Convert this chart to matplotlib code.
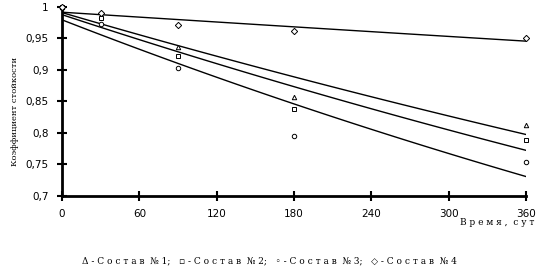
import numpy as np
import matplotlib
matplotlib.use("Agg")
import matplotlib.pyplot as plt

# Data
days = [0, 30, 90, 180, 360]
sostav1 = [1.0, 0.985, 0.937, 0.857, 0.812]
sostav2 = [1.0, 0.982, 0.923, 0.838, 0.789]
sostav3 = [1.0, 0.973, 0.903, 0.796, 0.754]
sostav4 = [1.0, 0.990, 0.971, 0.962, 0.951]

series = [
    (sostav1, "^"),
    (sostav2, "s"),
    (sostav3, "o"),
    (sostav4, "D"),
]

yticks = [0.7, 0.75, 0.8, 0.85, 0.9, 0.95, 1.0]
ytick_labels = ["0,7", "0,75", "0,8", "0,85", "0,9", "0,95", "1"]
xticks = [0, 60, 120, 180, 240, 300, 360]

fig = plt.figure(figsize=(5.38, 2.68), dpi=100)
ax = fig.add_axes([0.1152, 0.2687, 0.8625, 0.7052])

x = np.array(days, dtype=float)
xx = np.linspace(0, 360, 100)
for vals, mk in series:
    y = np.array(vals)
    # exponential trend line
    b, a = np.polyfit(x, np.log(y), 1)
    ax.plot(xx, np.exp(a + b * xx), color="black", lw=1.0, zorder=2)
    ax.plot(x, y, linestyle="none", marker=mk, ms=3.2, mfc="white",
            mec="black", mew=0.7, zorder=3, clip_on=False)

ax.set_xlim(0, 360)
ax.set_ylim(0.7, 1.0)
ax.set_yticks(yticks)
ax.set_yticklabels(ytick_labels)
ax.set_xticks(xticks)

for s in ["top", "right"]:
    ax.spines[s].set_visible(False)
for s in ["left", "bottom"]:
    ax.spines[s].set_linewidth(2)
ax.tick_params(axis="both", direction="inout", length=7, width=1.5,
               labelsize=7.5)
ax.tick_params(axis="x", pad=6)
ax.tick_params(axis="y", pad=6)

ax.set_ylabel("Коэффициент стойкости", family="DejaVu Serif", fontsize=6,
              labelpad=4)
ax.yaxis.set_label_coords(-0.092, 0.45)
fig.text(0.994, 0.168, "В р е м я ,  с у т", family="DejaVu Serif",
         fontsize=6.5, ha="right", va="center")
fig.text(0.5, 0.026,
         "\u0394 - С о с т а в  № 1;   \u25ab - С о с т а в  № 2;   "
         "\u25e6 - С о с т а в  № 3;   \u25c7 - С о с т а в  № 4",
         family="DejaVu Serif", fontsize=6.5, ha="center", va="center")

fig.savefig("out.png", dpi=100)
